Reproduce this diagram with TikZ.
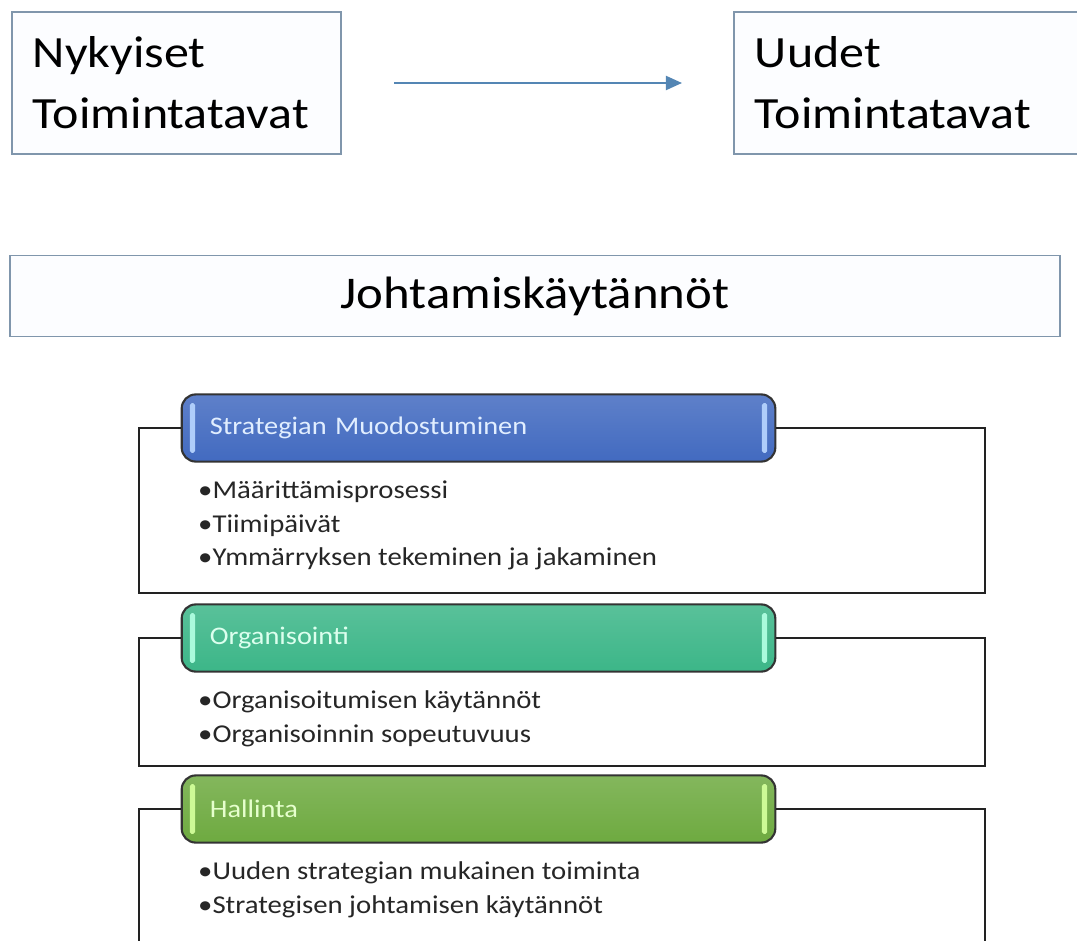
\documentclass[tikz,border=0pt]{standalone}
\usepackage{fontspec}
\setmainfont[FakeStretch=1.12]{Carlito}
\usetikzlibrary{positioning,arrows.meta}

\definecolor{boxline}{RGB}{128,150,172}
\definecolor{boxfill}{RGB}{252,253,255}
\definecolor{arrowblue}{RGB}{84,134,180}
\definecolor{frameline}{RGB}{34,34,34}
\definecolor{pillblue}{RGB}{66,106,192}
\definecolor{pillteal}{RGB}{60,182,136}
\definecolor{pillgreen}{RGB}{110,170,64}
\definecolor{glintblue}{RGB}{175,205,250}
\definecolor{glintteal}{RGB}{170,250,220}
\definecolor{glintgreen}{RGB}{205,250,150}

\begin{document}
\begin{tikzpicture}[x=0.01cm, y=-0.01cm,
  thinbox/.style={draw=boxline, line width=0.45pt, fill=boxfill, inner xsep=6pt, align=left, minimum height=40.4pt, font=\fontsize{12.7}{17.4}\selectfont},
  pill/.style={draw=black!80, line width=0.6pt, rounded corners=4pt, minimum height=19.1pt, text width=152.8pt, inner xsep=8pt, align=left, font=\fontsize{7.2}{9}\selectfont, top color=#1!85!white, bottom color=#1},
  items/.style={inner sep=0pt, align=left, text=black!85, font=\fontsize{7.3}{9.5}\selectfont},
  frame/.style={draw=frameline, line width=0.6pt},
  glint/.style={fill=#1, rounded corners=0.5pt}]

\useasboundingbox (0,0) rectangle (1077,940);

% top row
\node[thinbox, text width=81.7pt] (now) at (176.5,83) {Nykyiset\\Toimintatavat};
\node[thinbox, text width=90.5pt, anchor=west] (new) at (733,83) {Uudet\\Toimintatavat};
\draw[arrowblue, line width=0.6pt, -{Triangle[length=4.6pt,width=4pt]}, shorten <=14.8pt, shorten >=14.5pt] (now) -- (new);

\node[thinbox, minimum width=298.7pt, minimum height=23pt, font=\fontsize{12.9}{15}\selectfont] (lead) at (535,296) {Johtamiskäytännöt};

% groups
\node[pill=pillblue, text={rgb,255:red,225;green,238;blue,255}] (strat) at (478.5,428) {Strategian Muodostuminen};
\node[pill=pillteal, text={rgb,255:red,220;green,255;blue,238}] (org) at (478.5,638) {Organisointi};
\node[pill=pillgreen, text={rgb,255:red,230;green,255;blue,205}] (hall) at (478.5,809) {Hallinta};

\coordinate (g1sw) at (139,593);
\coordinate (g1se) at (985,593);
\coordinate (g2sw) at (139,766);
\coordinate (g2se) at (985,766);
\coordinate (g3sw) at (139,960);
\coordinate (g3se) at (985,960);

\draw[frame] (strat.west) -| (g1sw) -- (g1se) |- (strat.east);
\draw[frame] (org.west) -| (g2sw) -- (g2se) |- (org.east);
\draw[frame] (hall.west) -| (g3sw) -- (g3se) |- (hall.east);

\fill[glint=glintblue] ([xshift=2.6pt,yshift=-2.8pt]strat.north west) rectangle ([xshift=4.1pt,yshift=2.8pt]strat.south west);
\fill[glint=glintblue] ([xshift=-4.1pt,yshift=-2.8pt]strat.north east) rectangle ([xshift=-2.6pt,yshift=2.8pt]strat.south east);
\fill[glint=glintteal] ([xshift=2.6pt,yshift=-2.8pt]org.north west) rectangle ([xshift=4.1pt,yshift=2.8pt]org.south west);
\fill[glint=glintteal] ([xshift=-4.1pt,yshift=-2.8pt]org.north east) rectangle ([xshift=-2.6pt,yshift=2.8pt]org.south east);
\fill[glint=glintgreen] ([xshift=2.6pt,yshift=-2.8pt]hall.north west) rectangle ([xshift=4.1pt,yshift=2.8pt]hall.south west);
\fill[glint=glintgreen] ([xshift=-4.1pt,yshift=-2.8pt]hall.north east) rectangle ([xshift=-2.6pt,yshift=2.8pt]hall.south east);

\node[items, below right=5pt and 4.8pt of strat.south west] (stratlist) {•Määrittämisprosessi\\•Tiimipäivät\\•Ymmärryksen tekeminen ja jakaminen};
\node[items, below right=5pt and 4.8pt of org.south west] (orglist) {•Organisoitumisen käytännöt\\•Organisoinnin sopeutuvuus};
\node[items, below right=5pt and 4.8pt of hall.south west] (halllist) {•Uuden strategian mukainen toiminta\\•Strategisen johtamisen käytännöt};
\end{tikzpicture}
\end{document}
